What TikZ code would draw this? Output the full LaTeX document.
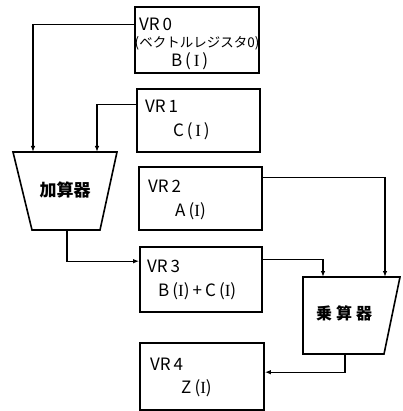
\documentclass[tikz,border=0pt]{standalone}
\usepackage{fontspec}
\setmainfont{Noto Sans CJK JP}
\newfontfamily\valfont[LetterSpace=18]{Noto Sans CJK JP}
\newfontfamily\serifI[LetterSpace=18]{Liberation Serif}
\newcommand{\RI}{{\serifI I}}
\usetikzlibrary{arrows.meta,calc}
\begin{document}
\begin{tikzpicture}[x=1pt,y=-1pt,
  box/.style={draw,line width=1.6pt,minimum width=#1,inner sep=0pt},
  reg/.style={anchor=base west,font=\fontsize{17}{17}\selectfont,inner sep=0pt},
  val/.style={anchor=base west,font=\fontsize{17}{17}\selectfont\valfont,inner sep=0pt},
  wire/.style={line width=1.3pt},
  arr/.style={wire,-{Latex[length=6pt,width=4.5pt]}},
  unit/.style={draw,line width=1.6pt,line join=miter}]
\useasboundingbox (0,0) rectangle (402,411);
% registers
\node[box=124pt,minimum height=66pt] (VR0) at (197,40) {};
\node[box=123pt,minimum height=63pt] (VR1) at (198.5,120.5) {};
\node[box=123pt,minimum height=63pt] (VR2) at (200.5,198.5) {};
\node[box=122pt,minimum height=65pt] (VR3) at (201,279.5) {};
\node[box=124pt,minimum height=67pt] (VR4) at (202,376.5) {};
% texts
\node[reg] (t0a) at (139,31) {VR\,0};
\node[anchor=base,inner sep=0pt,font=\fontsize{13.5}{13.5}\selectfont] (t0b) at (197,48) {(ベクトルレジスタ0)};
\node[val] (t0c) at (171,67) {B\,(\,\RI\,)};
\node[reg] (t1a) at (145,113) {VR\,1};
\node[val] (t1b) at (173,137) {C\,(\,\RI\,)};
\node[reg] (t2a) at (148,193) {VR\,2};
\node[val] (t2b) at (175,216) {A(\RI)};
\node[reg] (t3a) at (147,272) {VR\,3};
\node[val] (t3b) at (158,296) {B(\RI)+C(\RI)};
\node[reg] (t4a) at (150,370) {VR\,4};
\node[val] (t4b) at (181,393) {Z(\RI)};
% adder
\draw[unit] (13,152) -- (117,152) -- (100,230) -- (32,230) -- cycle;
\coordinate (addin1) at (33,152);
\coordinate (addin2) at (97,152);
\coordinate (addout) at (67,230);
\node[font=\fontsize{17}{17}\selectfont\bfseries,inner sep=0pt] (addlbl) at (65,190) {加算器};
% multiplier
\draw[unit] (303,277) -- (400,277) -- (384,354) -- (303,354) -- cycle;
\coordinate (mulin1) at (323,277);
\coordinate (mulin2) at (385,277);
\coordinate (mulout) at (345,354);
\node[font=\fontsize{16}{16}\selectfont\bfseries,inner sep=0pt] (mullbl) at (344,313) {乗\hspace{4pt}算\hspace{4pt}器};
% connectors
\draw[arr] ($(VR0.north west)+(0,18)$) -| (addin1);
\draw[arr] ($(VR1.north west)+(0,16)$) -| (addin2);
\draw[arr] (addout) |- ($(VR3.north west)+(0,15)$);
\draw[arr] ($(VR2.north east)+(0,11)$) -| (mulin2);
\draw[arr] ($(VR3.north east)+(0,13)$) -| (mulin1);
\draw[arr] (mulout) |- ($(VR4.north east)+(0,30)$);
\end{tikzpicture}
\end{document}
